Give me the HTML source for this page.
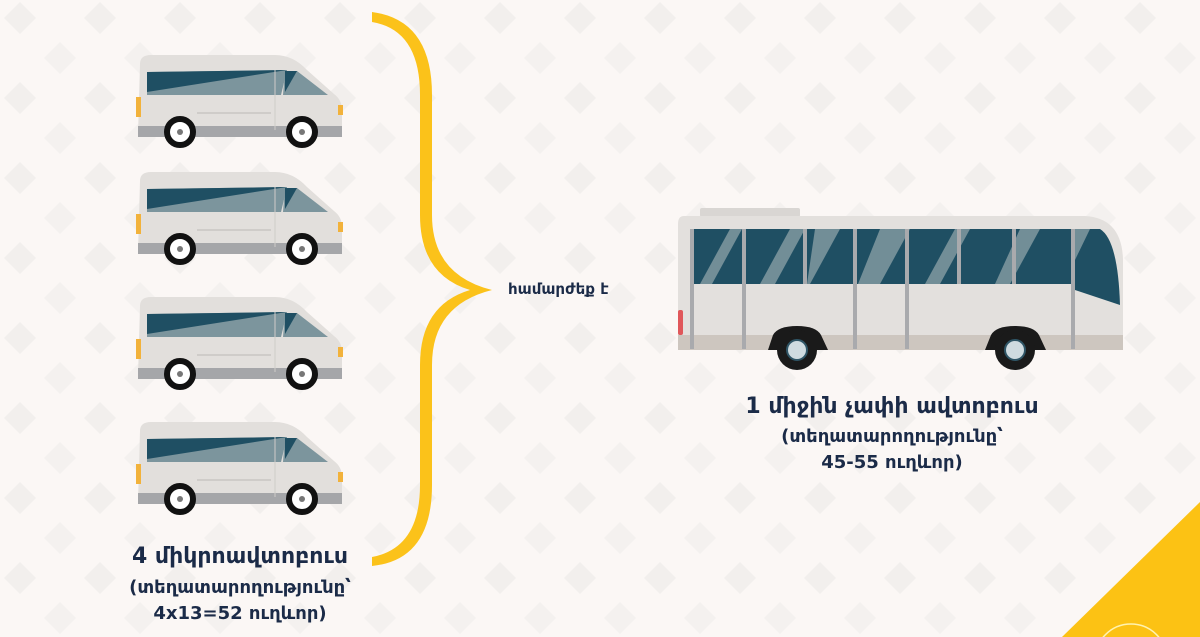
<!DOCTYPE html>
<html><head><meta charset="utf-8"><style>
html,body{margin:0;padding:0;overflow:hidden}
body{width:1200px;height:637px;overflow:hidden;background:#fbf7f5;position:relative;font-family:"DejaVu Sans","Liberation Sans",sans-serif}
.t{position:absolute;color:#1b2b48;font-weight:bold;text-align:center;white-space:nowrap;line-height:1}
</style></head><body>
<svg width="1200" height="637" style="position:absolute;left:0;top:0">
<defs>
<pattern id="dp" width="80" height="80" patternUnits="userSpaceOnUse">
<polygon points="20,2 36,18 20,34 4,18" fill="#f2efed"/>
<polygon points="60,42 76,58 60,74 44,58" fill="#f4f1ef"/>
</pattern>
<g id="van">
<path d="M5,14 Q5,5 16,5 L140,5 Q158,5 172,20 L199,44 Q207,50 207,60 L207,85 L3,85 Z" fill="#e2dfdc"/>
<rect x="3" y="76" width="204" height="11" fill="#a5a6a9"/>
<polygon points="12,22 152,20 146,45 12,45" fill="#7c959d"/>
<polygon points="12,22 152,20 12,42" fill="#1f4f63"/>
<polygon points="150,21 162,21 193,45 148,45" fill="#7c959d"/>
<polygon points="150,21 162,21 150,42" fill="#1f4f63"/>
<line x1="140" y1="20" x2="140" y2="80" stroke="#cfccc9" stroke-width="1"/>
<line x1="62" y1="63" x2="136" y2="63" stroke="#cfccc9" stroke-width="2"/>
<rect x="1" y="47" width="5" height="20" fill="#f2b23b"/>
<rect x="203" y="55" width="5" height="10" fill="#f2b23b"/>
<circle cx="45" cy="82" r="13" fill="#fff" stroke="#111" stroke-width="6"/>
<circle cx="45" cy="82" r="3" fill="#777"/>
<circle cx="167" cy="82" r="13" fill="#fff" stroke="#111" stroke-width="6"/>
<circle cx="167" cy="82" r="3" fill="#777"/>
</g>
</defs>
<rect width="1200" height="637" fill="url(#dp)"/>
<use href="#van" x="135" y="50"/>
<use href="#van" x="135" y="167"/>
<use href="#van" x="135" y="292"/>
<use href="#van" x="135" y="417"/>
<path d="M372,12 Q432,20 432,95 L432,215 Q432,275 492,290 Q432,305 432,365 L432,485 Q432,560 372,566 L372,557 Q420,548 420,485 L420,365 Q420,305 470,290 Q420,275 420,215 L420,95 Q420,30 372,22 Z" fill="#fbc21a"/>
<rect x="700" y="208" width="100" height="9" rx="2" fill="#d9d6d3"/>
<path d="M684,216 L1085,216 Q1122,218 1123,260 L1123,340 Q1123,350 1113,350 L684,350 Q678,350 678,343 L678,224 Q678,216 684,216 Z" fill="#e3e0dd"/>
<rect x="678" y="335" width="445" height="15" fill="#cdc6bf"/>
<rect x="693" y="229" width="380" height="55" fill="#1f4f63"/>
<path d="M1075,229 L1100,229 Q1118,240 1120,305 L1075,290 Z" fill="#1f4f63"/>
<g fill="#7c959d" opacity="0.9">
<polygon points="730,229 742,229 712,284 700,284"/>
<polygon points="790,229 805,229 775,284 760,284"/>
<polygon points="815,229 840,229 810,284 807,284"/>
<polygon points="880,229 910,229 880,284 858,284"/>
<polygon points="955,229 970,229 940,284 925,284"/>
<polygon points="1020,229 1040,229 1010,284 995,284"/>
<polygon points="1075,229 1090,229 1075,260"/>
</g>
<g fill="#a9aaad">
<rect x="690" y="229" width="4" height="120"/>
<rect x="742" y="229" width="4" height="120"/>
<rect x="803" y="229" width="4" height="55"/>
<rect x="853" y="229" width="4" height="120"/>
<rect x="905" y="229" width="4" height="120"/>
<rect x="957" y="229" width="4" height="55"/>
<rect x="1012" y="229" width="4" height="55"/>
<rect x="1071" y="229" width="4" height="120"/>
</g>
<rect x="678" y="310" width="5" height="25" rx="2" fill="#e0575a"/>
<path d="M768,350 L773,335 Q778,326 797,326 Q816,326 821,335 L828,350 Z" fill="#1a1a1a"/>
<circle cx="797" cy="350" r="20" fill="#1a1a1a"/>
<circle cx="797" cy="350" r="10" fill="#cfdbe0" stroke="#2f5566" stroke-width="2"/>
<path d="M985,350 L991,335 Q996,326 1015,326 Q1034,326 1039,335 L1046,350 Z" fill="#1a1a1a"/>
<circle cx="1015" cy="350" r="20" fill="#1a1a1a"/>
<circle cx="1015" cy="350" r="10" fill="#cfdbe0" stroke="#2f5566" stroke-width="2"/>
<polygon points="1200,502 1200,637 1062,637" fill="#fcc214"/>
<circle cx="1131" cy="660" r="36" fill="none" stroke="#fff3b0" stroke-width="1.5"/>
</svg>
<div class="t" style="left:508px;top:282px;font-size:15px">համարժեք է</div>
<div class="t" style="left:90px;top:546px;width:300px;font-size:22px">4 միկրոավտոբուս</div>
<div class="t" style="left:90px;top:579px;width:300px;font-size:18px">(տեղատարողությունը՝</div>
<div class="t" style="left:90px;top:605px;width:300px;font-size:18px">4x13=52 ուղևոր)</div>
<div class="t" style="left:742px;top:396px;width:300px;font-size:22px">1 միջին չափի ավտոբուս</div>
<div class="t" style="left:742px;top:428px;width:300px;font-size:18px">(տեղատարողությունը՝</div>
<div class="t" style="left:742px;top:454px;width:300px;font-size:18px">45-55 ուղևոր)</div>
</body></html>
